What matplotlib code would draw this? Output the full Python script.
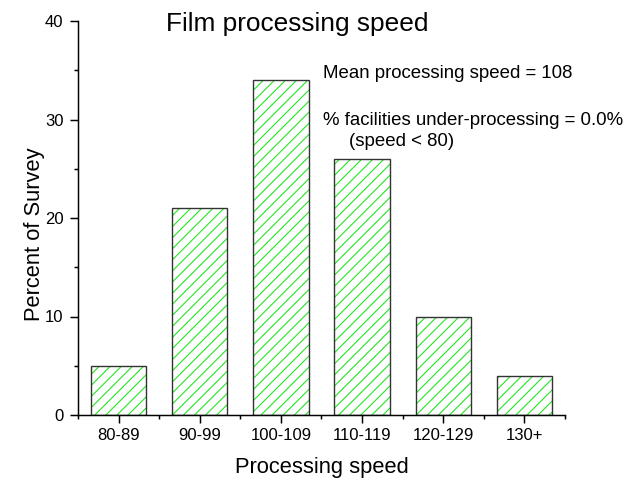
import numpy as np
from matplotlib import pyplot as plt

categories = ['80-89', '90-99', '100-109', '110-119', '120-129', '130+']
percent = [5, 21, 34, 26, 10, 4]
mean_speed = 108
under_pct = 0.0

plt.rcParams['font.family'] = ['Liberation Sans', 'DejaVu Sans']
plt.rcParams['hatch.linewidth'] = 0.6

# hatch cell size follows dpi, so dpi is picked to get the line spacing right
dpi = 400 / 3
fig = plt.figure(figsize=(630 / dpi, 480 / dpi), dpi=dpi)
ax = fig.add_axes([78 / 630, 65 / 480, 487 / 630, 394 / 480])

x = np.arange(len(categories))
ax.bar(x, percent, width=0.68, color='white', edgecolor='#22e622', linewidth=0, hatch='////')
ax.bar(x, percent, width=0.68, facecolor='none', edgecolor='#333333', linewidth=0.75)

ax.set_xlim(-0.5, 5.5)
ax.set_ylim(0, 40)
ax.set_xticks(x)
ax.set_xticklabels(categories)
ax.set_xticks(np.arange(-0.5, 6, 1), minor=True)
ax.set_yticks([0, 10, 20, 30, 40])
ax.set_yticks([5, 15, 25, 35], minor=True)

for side in ['top', 'right']:
    ax.spines[side].set_visible(False)
for side in ['left', 'bottom']:
    ax.spines[side].set_linewidth(0.8)
ax.tick_params(which='major', direction='out', length=4.3, width=0.8, labelsize=9)
ax.tick_params(which='minor', direction='out', length=2.2, width=0.8)
ax.tick_params(axis='y', pad=3.6)
ax.tick_params(axis='x', pad=2.7)

ax.set_xlabel('Processing speed', fontsize=11.8, labelpad=7.5)
ax.set_ylabel('Percent of Survey', fontsize=11.8)
ax.yaxis.set_label_coords(-0.067, 0.459)

fig.text(297 / 630, 1 - 31 / 480, 'Film processing speed', fontsize=14.2, ha='center', va='baseline')
fig.text(323 / 630, 1 - 78 / 480, 'Mean processing speed = %d' % mean_speed, fontsize=10.1, va='baseline')
fig.text(323 / 630, 1 - 125 / 480, '%% facilities under-processing = %.1f%%' % under_pct, fontsize=10.1, va='baseline')
fig.text(349 / 630, 1 - 146 / 480, '(speed < 80)', fontsize=10.1, va='baseline')

plt.savefig('out.png', dpi=dpi)
